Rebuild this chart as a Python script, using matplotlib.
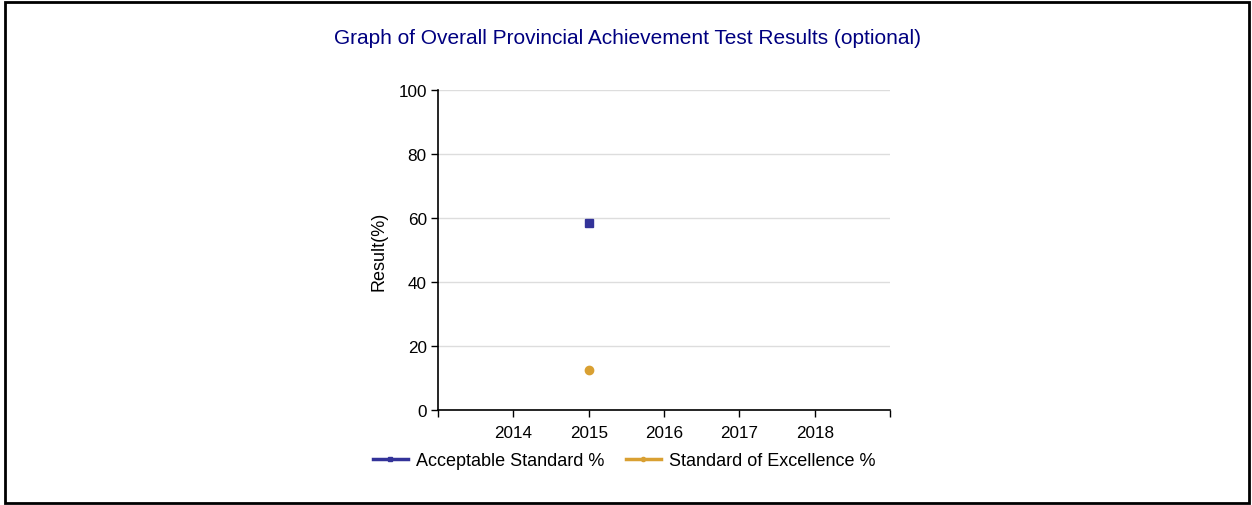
import matplotlib
matplotlib.use("Agg")
import matplotlib.pyplot as plt
from matplotlib.patches import Rectangle

plt.rcParams['font.family'] = ['Liberation Sans', 'DejaVu Sans']

years = [2014, 2015, 2016, 2017, 2018]
acceptable = [None, 58.3, None, None, None]
excellence = [None, 12.5, None, None, None]
y_ticks = [0, 20, 40, 60, 80, 100]

blue = '#333399'
gold = '#D9A032'

fig = plt.figure(figsize=(12.52, 5.06), dpi=100)
ax = fig.add_axes([0.3498, 0.1877, 0.3611, 0.6325])

xa = [y for y, v in zip(years, acceptable) if v is not None]
va = [v for v in acceptable if v is not None]
xe = [y for y, v in zip(years, excellence) if v is not None]
ve = [v for v in excellence if v is not None]

ax.plot(xa, va, color=blue, marker='s', markersize=6, linewidth=2.5,
        label='Acceptable Standard %')
ax.plot(xe, ve, color=gold, marker='o', markersize=6, linewidth=2.5,
        label='Standard of Excellence %')

ax.set_xlim(years[0] - 1, years[-1] + 1)
ax.set_ylim(0, 100)
ax.set_xticks([years[0] - 1] + years + [years[-1] + 1])
ax.set_xticklabels([''] + [str(y) for y in years] + [''])
ax.set_yticks(y_ticks)
ax.tick_params(axis='both', labelsize=12.3, length=5, width=1, color='black',
               pad=3)
ax.tick_params(axis='x', pad=6)

ax.grid(axis='y', color='#dddddd', linewidth=1)
ax.set_axisbelow(True)
for s in ['top', 'right']:
    ax.spines[s].set_visible(False)
for s in ['left', 'bottom']:
    ax.spines[s].set_color('black')
    ax.spines[s].set_linewidth(1.2)

ax.set_ylabel('Result(%)', fontsize=13, labelpad=8)

fig.text(0.501, 0.923, 'Graph of Overall Provincial Achievement Test Results (optional)',
         ha='center', va='center', fontsize=15, color='#000080')

leg = fig.legend(loc='center', bbox_to_anchor=(0.4985, 0.088), ncol=2,
                 frameon=False, fontsize=13, handlelength=1.95,
                 columnspacing=1.2, handletextpad=0.45, markerscale=0.5)

fig.patches.append(Rectangle((0.004, 0.004), 0.994, 0.99, transform=fig.transFigure,
                             fill=False, edgecolor='black', linewidth=2))

fig.savefig('out.png', dpi=100)
